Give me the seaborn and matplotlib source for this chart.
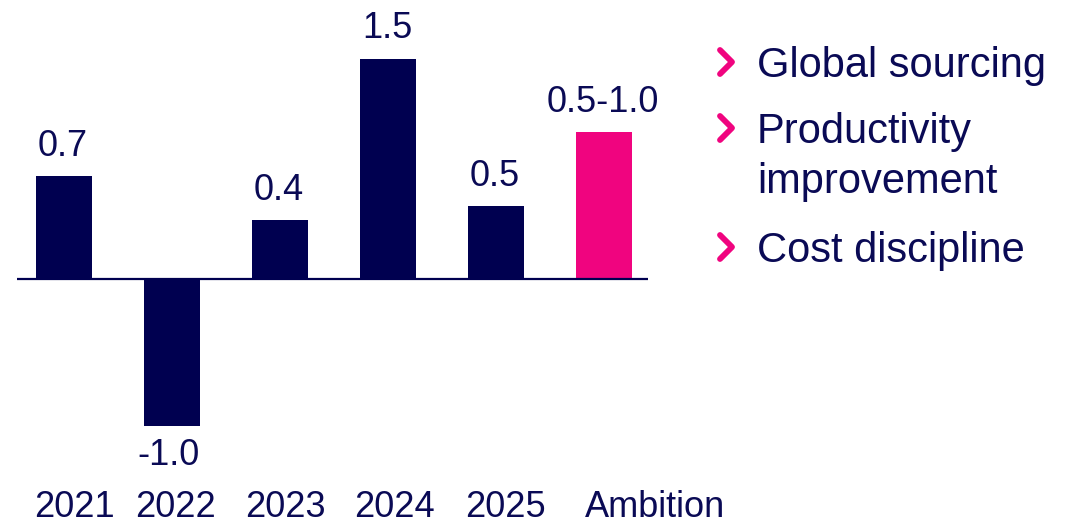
import matplotlib
matplotlib.use("Agg")
import matplotlib.pyplot as plt
from matplotlib.lines import Line2D
import seaborn as sns
import pandas as pd

# Data
categories = ["2021", "2022", "2023", "2024", "2025", "Ambition"]
values = [0.7, -1.0, 0.4, 1.5, 0.5, 1.0]
value_labels = ["0.7", "-1.0", "0.4", "1.5", "0.5", "0.5-1.0"]
ambition_range = (0.5, 1.0)
levers = ["Global sourcing", "Productivity", "improvement", "Cost discipline"]
lever_bullet = [True, True, False, True]

NAVY = "#000050"
PINK = "#F0047F"
TEXT = "#0A0A55"

sns.set_theme(style="white")
plt.rcParams["font.family"] = ["Liberation Sans", "DejaVu Sans"]

W, H = 1079, 521
fig = plt.figure(figsize=(W / 100, H / 100), dpi=100)
ax = fig.add_axes([17 / W, 0, (648 - 17) / W, 1])

df = pd.DataFrame({"cat": categories, "val": values})
palette = {c: (PINK if c == "Ambition" else NAVY) for c in categories}
sns.barplot(data=df, x="cat", y="val", hue="cat", palette=palette,
            width=0.52, saturation=1, legend=False, ax=ax, linewidth=0)

ax.set_xlim(-0.435, 5.407)
ppu = 147.0  # pixels per unit
ax.set_ylim(-(H - 279) / ppu, 279 / ppu)
ax.axhline(0, color=NAVY, lw=1.6, zorder=3)
ax.axis("off")

PT = 72 / 100  # points per pixel at 100 dpi

# value labels
for i, (v, lab) in enumerate(zip(values, value_labels)):
    if v >= 0:
        ax.annotate(lab, (i, v), xytext=(-1 * PT, 20 * PT), textcoords="offset points",
                    ha="center", va="baseline", fontsize=26, color=TEXT)
    else:
        ax.annotate(lab, (i, v), xytext=(-3 * PT, -12 * PT), textcoords="offset points",
                    ha="center", va="top", fontsize=26, color=TEXT)

# category labels under the chart (horizontal nudges in pixels)
label_shift = [10, 4, 5, 6, 9, 51]
for i, (c, dx) in enumerate(zip(categories, label_shift)):
    ax.annotate(c, (i, 0), xycoords=("data", "axes fraction"),
                xytext=(dx * PT, 4 * PT), textcoords="offset points",
                ha="center", va="baseline", fontsize=26, color=TEXT)

# lever list with chevrons
lines_y = [77, 143, 193, 262]
for txt, yb, bullet in zip(levers, lines_y, lever_bullet):
    fig.text(757 / W, 1 - yb / H, txt, ha="left", va="baseline",
             fontsize=30, color=TEXT)
    if bullet:
        cy = yb - 15
        fig.add_artist(Line2D([720 / W, 732 / W, 720 / W],
                              [1 - (cy - 12) / H, 1 - cy / H, 1 - (cy + 12) / H],
                              transform=fig.transFigure, color=PINK, lw=4.2,
                              solid_capstyle="round", solid_joinstyle="round"))

fig.savefig("out.png", dpi=100, facecolor="white")
